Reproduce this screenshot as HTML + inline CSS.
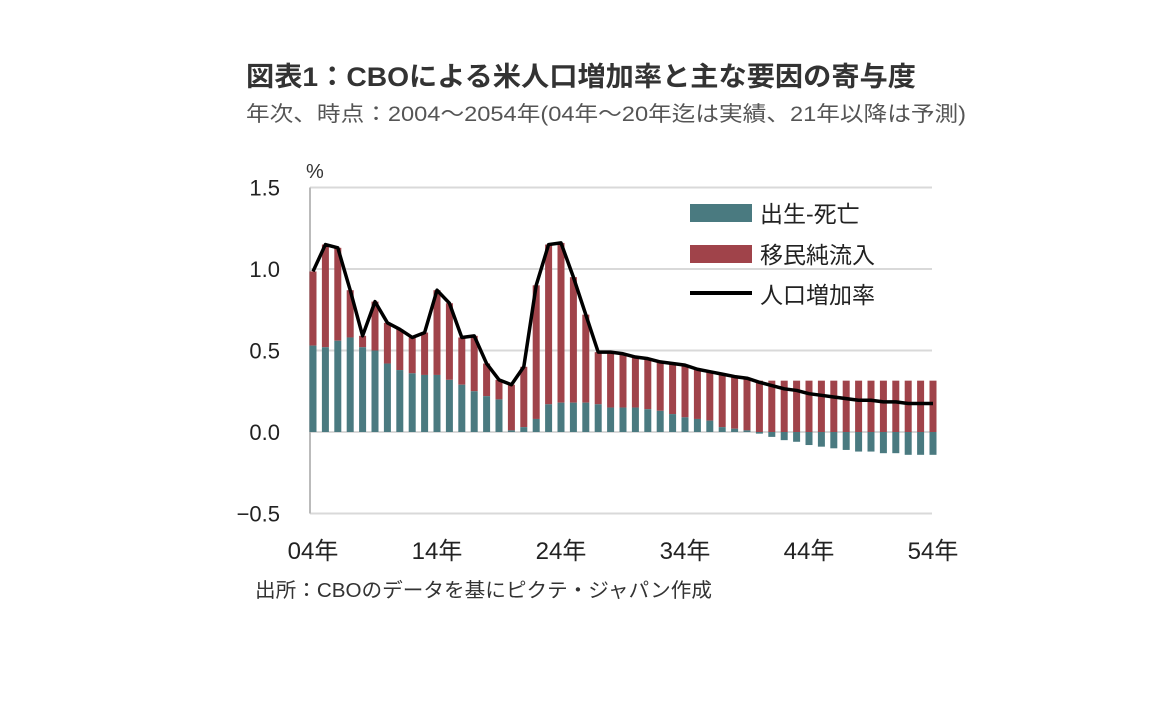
<!DOCTYPE html>
<html><head><meta charset="utf-8"><style>
body{margin:0;background:#fff;width:1152px;height:720px;overflow:hidden;font-family:"Liberation Sans","Noto Sans CJK JP",sans-serif;}
svg text{font-family:"Liberation Sans","Noto Sans CJK JP",sans-serif;}
</style></head><body>
<svg id="chart" width="1152" height="720">
<text x="246" y="86" font-size="27" font-weight="bold" fill="#333" textLength="670" lengthAdjust="spacingAndGlyphs">図表1：CBOによる米人口増加率と主な要因の寄与度</text>
<text x="246" y="121" font-size="21" fill="#555" textLength="720" lengthAdjust="spacingAndGlyphs">年次、時点：2004～2054年(04年～20年迄は実績、21年以降は予測)</text>
<text x="306" y="178" font-size="20" fill="#333">%</text>
<text x="255" y="597" font-size="20" fill="#333" textLength="457" lengthAdjust="spacingAndGlyphs">出所：CBOのデータを基にピクテ・ジャパン作成</text>
<g id="grid"></g><g id="bars"></g><g id="line"></g><g id="labels"></g>
<g>
<rect x="690" y="204" width="62" height="18" fill="#4a7a80"/>
<text x="760" y="222" font-size="23" fill="#222">出生-死亡</text>
<rect x="690" y="245" width="62" height="18" fill="#a0434a"/>
<text x="760" y="263" font-size="23" fill="#222">移民純流入</text>
<line x1="690" y1="293" x2="752" y2="293" stroke="#000" stroke-width="4"/>
<text x="760" y="303" font-size="23" fill="#222">人口増加率</text>
</g>
</svg>
<script>
const years=[];for(let y=2004;y<=2054;y++)years.push(y);
const natural=[0.53,0.52,0.56,0.58,0.52,0.50,0.42,0.38,0.36,0.35,0.35,0.32,0.29,0.25,0.22,0.20,0.01,0.03,0.08,0.17,0.18,0.18,0.18,0.17,0.15,0.15,0.15,0.14,0.13,0.11,0.09,0.08,0.07,0.03,0.02,0.01,-0.01,-0.03,-0.05,-0.06,-0.08,-0.09,-0.10,-0.11,-0.12,-0.12,-0.13,-0.13,-0.14,-0.14,-0.14];
const migration=[0.455,0.63,0.57,0.29,0.07,0.30,0.25,0.25,0.22,0.26,0.52,0.47,0.29,0.34,0.20,0.12,0.28,0.37,0.82,0.98,0.98,0.77,0.54,0.32,0.34,0.33,0.31,0.31,0.30,0.31,0.32,0.305,0.30,0.325,0.32,0.32,0.315,0.315,0.315,0.315,0.315,0.315,0.315,0.315,0.315,0.315,0.315,0.315,0.315,0.315,0.315];
const yTicks=[1.5,1.0,0.5,0.0,-0.5];
const yTickLabels=["1.5","1.0","0.5","0.0","−0.5"];
const xTickYears=[2004,2014,2024,2034,2044,2054];
const xTickLabels=["04年","14年","24年","34年","44年","54年"];
const NS="http://www.w3.org/2000/svg";
const X=y=>313+(y-2004)*12.4;
const Y=v=>432-v*163;
function mk(tag,attrs,parent){const e=document.createElementNS(NS,tag);for(const k in attrs)e.setAttribute(k,attrs[k]);document.getElementById(parent).appendChild(e);return e;}
yTicks.forEach((t,i)=>{
 const g=mk('line',{x1:310,x2:932,y1:Y(t),y2:Y(t),stroke:'#d9d9d9','stroke-width':2},'grid');
 
 
 const l=mk('text',{x:280,y:Y(t)+8,'font-size':22,fill:'#222','text-anchor':'end'},'labels');
 l.textContent=yTickLabels[i];
 
 
});
const ax=mk('line',{x1:310,x2:310,y1:Y(1.5),y2:Y(-0.5),stroke:'#bbb','stroke-width':2},'grid');


xTickYears.forEach((yr,i)=>{
 const l=mk('text',{x:X(yr),y:559,'font-size':24,fill:'#222','text-anchor':'middle'},'labels');
 l.textContent=xTickLabels[i];
 
 
});
const bw=7;
years.forEach((yr,i)=>{
 const n=natural[i],m=migration[i];
 const base=n>0?n:0;
 const r=mk('rect',{x:X(yr)-bw/2,y:Y(base+m),width:bw,height:m*163,fill:'#a0434a'},'bars');
 
 
 const t=mk('rect',{x:X(yr)-bw/2,y:Math.min(Y(n),Y(0)),width:bw,height:Math.abs(n)*163,fill:'#4a7a80'},'bars');
 
 
});
const pts=years.map((yr,i)=>X(yr)+','+Y(natural[i]+migration[i])).join(' ');
const pl=mk('polyline',{points:pts,fill:'none',stroke:'#000','stroke-width':3.5,'stroke-linejoin':'round'},'line');


</script>
</body></html>
